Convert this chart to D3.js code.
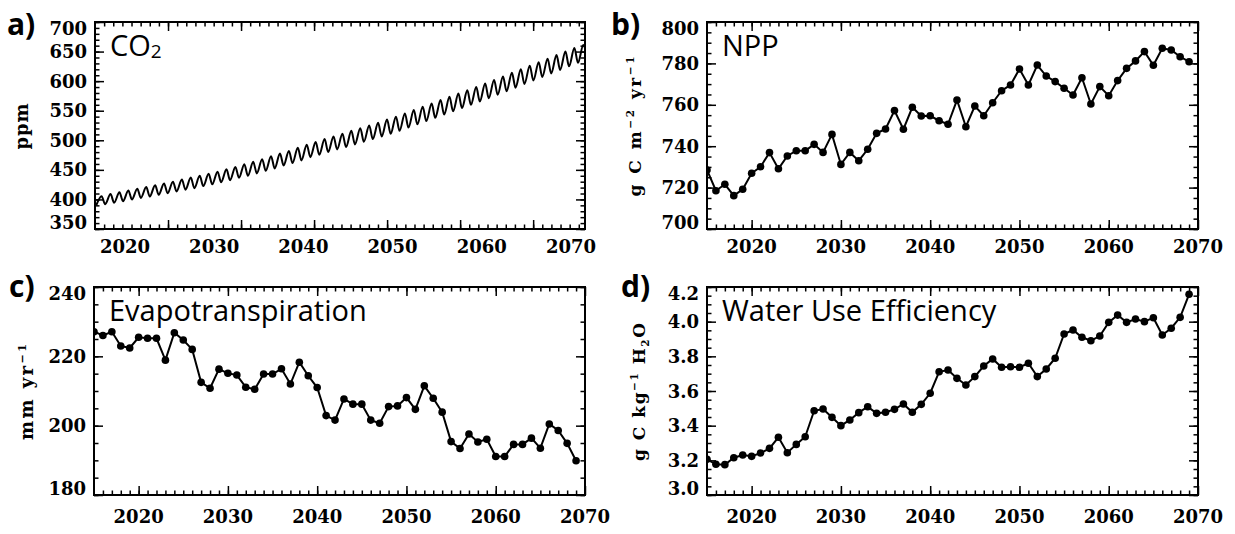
<!DOCTYPE html>
<html>
<head>
<meta charset="utf-8">
<script src="https://cdn.jsdelivr.net/npm/d3@7"></script>
<style>
  body { margin: 0; background: #fff; }
  .tick line { stroke: #000; stroke-width: 1.5; }
  .domain { display: none; }
</style>
</head>
<body>
<div id="chart"></div>
<script>
// ---- data ----
var years = [2015, 2016, 2017, 2018, 2019, 2020, 2021, 2022, 2023, 2024,
  2025, 2026, 2027, 2028, 2029, 2030, 2031, 2032, 2033, 2034,
  2035, 2036, 2037, 2038, 2039, 2040, 2041, 2042, 2043, 2044,
  2045, 2046, 2047, 2048, 2049, 2050, 2051, 2052, 2053, 2054,
  2055, 2056, 2057, 2058, 2059, 2060, 2061, 2062, 2063, 2064,
  2065, 2066, 2067, 2068, 2069];

var npp = [728.5, 718.5, 721.6, 716.1, 719.2, 726.9, 730.1, 736.9, 729.1, 735.3,
  737.8, 737.8, 740.9, 737.0, 745.7, 731.2, 737.0, 733.0, 738.5, 746.2,
  748.3, 757.2, 748.2, 758.8, 754.6, 754.7, 752.3, 750.6, 762.3, 749.4,
  759.4, 754.7, 761.0, 766.8, 769.6, 777.3, 769.6, 779.2, 773.9, 771.2,
  768.0, 764.7, 773.1, 760.4, 768.8, 764.4, 771.7, 777.6, 781.2, 785.7,
  779.1, 787.3, 786.5, 783.2, 780.8];

var et = [227.1, 226.0, 227.1, 223.0, 222.4, 225.5, 225.2, 225.2, 218.9, 226.8,
  224.7, 222.0, 212.5, 210.8, 216.3, 215.1, 214.6, 211.1, 210.5, 214.9,
  214.9, 216.4, 212.0, 218.3, 214.4, 211.0, 202.9, 201.6, 207.7, 206.2,
  206.2, 201.6, 200.7, 205.5, 205.7, 208.1, 204.7, 211.5, 207.9, 203.9,
  195.4, 193.4, 197.6, 195.3, 196.1, 191.1, 191.1, 194.6, 194.6, 196.4,
  193.5, 200.5, 198.6, 194.9, 189.9];

var wue = [3.206, 3.177, 3.175, 3.215, 3.231, 3.223, 3.242, 3.269, 3.333, 3.244,
  3.292, 3.336, 3.486, 3.496, 3.448, 3.400, 3.433, 3.475, 3.509, 3.471,
  3.477, 3.494, 3.525, 3.477, 3.523, 3.587, 3.711, 3.721, 3.673, 3.635,
  3.683, 3.744, 3.785, 3.737, 3.740, 3.737, 3.760, 3.683, 3.727, 3.789,
  3.929, 3.952, 3.910, 3.890, 3.917, 3.996, 4.038, 3.996, 4.015, 4.000,
  4.023, 3.923, 3.962, 4.025, 4.158];

// CO2: seasonal maximum (late spring) and minimum (autumn) of each year
var co2Years = [2016, 2017, 2018, 2019, 2020, 2021, 2022, 2023, 2024, 2025,
  2026, 2027, 2028, 2029, 2030, 2031, 2032, 2033, 2034, 2035,
  2036, 2037, 2038, 2039, 2040, 2041, 2042, 2043, 2044, 2045,
  2046, 2047, 2048, 2049, 2050, 2051, 2052, 2053, 2054, 2055,
  2056, 2057, 2058, 2059, 2060, 2061, 2062, 2063, 2064, 2065,
  2066, 2067, 2068, 2069, 2070, 2071];
var co2Max = [null, 405.5, 409, 412, 415, 418, 421, 424, 427, 430,
  433.5, 437, 440, 443.5, 447, 451, 455, 459.5, 463.5, 468,
  473, 477.5, 482, 487.5, 492.5, 497, 502, 506.5, 511, 516,
  520.5, 525, 529.5, 535, 540, 545.5, 551, 556.5, 562, 568,
  573.5, 579, 584.5, 590, 596, 602, 608, 614, 620, 626,
  632, 638, 644, 650, 656, 661];
var co2Min = [390, 392, 394.5, 397, 400, 402.5, 405, 408, 410.5, 413.5,
  416.5, 419, 422.5, 425.5, 429, 432.5, 436.5, 440, 444, 448.5,
  452.5, 457.5, 461.5, 466, 471.5, 475.5, 480, 484.5, 488.5, 493,
  497.5, 502, 506.5, 511, 516, 521.5, 527, 532.5, 538, 543.5,
  549, 554.5, 560, 565.5, 571, 577, 583, 589, 595, 601,
  607, 613, 619, 625, 631, 637];

var xLabels = [2020, 2030, 2040, 2050, 2060, 2070];

// ---- drawing ----
var svg = d3.select("#chart").append("svg")
  .attr("width", 1235).attr("height", 534);

var serif = "'DejaVu Serif', serif";
var sans = "'Open Sans', sans-serif";

function range(a, b, s) {
  var out = [];
  var n = Math.round((b - a) / s);
  for (var i = 0; i <= n; i++) out.push(+(a + i * s).toFixed(6));
  return out;
}

function panel(p) {
  var x = d3.scaleLinear().domain(p.xDomain).range([p.left, p.right]);
  var y = d3.scaleLinear().domain(p.yDomain).range([p.bottom, p.top]);
  var tx = p.tickScale ? d3.scaleLinear().domain(p.tickScale).range([p.left, p.right]) : x;
  var g = svg.append("g");

  svg.append("clipPath").attr("id", "clip-" + p.id)
    .append("rect")
    .attr("x", p.left).attr("y", p.top)
    .attr("width", p.right - p.left).attr("height", p.bottom - p.top);

  // ticks on all four sides, pointing inward
  function addTicks(vals, len) {
    g.append("g").attr("transform", "translate(0," + p.bottom + ")")
      .call(d3.axisBottom(tx).tickValues(vals.x).tickSize(-len).tickFormat(""));
    g.append("g").attr("transform", "translate(0," + p.top + ")")
      .call(d3.axisTop(tx).tickValues(vals.x).tickSize(-len).tickFormat(""));
    g.append("g").attr("transform", "translate(" + p.left + ",0)")
      .call(d3.axisLeft(y).tickValues(vals.y).tickSize(-len).tickFormat(""));
    g.append("g").attr("transform", "translate(" + p.right + ",0)")
      .call(d3.axisRight(y).tickValues(vals.y).tickSize(-len).tickFormat(""));
  }
  addTicks({ x: p.xMinor, y: range(p.yDomain[0], p.yDomain[1], p.yMinor) }, 4.5);
  addTicks({ x: p.xMajor, y: range(p.yDomain[0], p.yDomain[1], p.yMajor) }, 9);

  g.append("rect")
    .attr("x", p.left).attr("y", p.top)
    .attr("width", p.right - p.left).attr("height", p.bottom - p.top)
    .attr("fill", "none").attr("stroke", "#000").attr("stroke-width", 2);

  // y tick labels (end labels kept inside the axis span)
  g.selectAll(".ylab").data(range(p.yDomain[0], p.yDomain[1], p.yMajor)).enter()
    .append("text")
    .attr("x", p.left - 8)
    .attr("y", function (d) {
      var c = Math.min(Math.max(y(d), p.top + 6.5), p.bottom - 6.5);
      return c + 6.5;
    })
    .attr("text-anchor", "end")
    .attr("font-family", serif).attr("font-weight", "bold").attr("font-size", 18)
    .text(p.yFormat || function (d) { return d; });

  // x tick labels
  g.selectAll(".xlab").data(xLabels).enter()
    .append("text")
    .attr("x", function (d) { return x(d); })
    .attr("y", p.xLabelY)
    .attr("text-anchor", "middle")
    .attr("font-family", serif).attr("font-weight", "bold").attr("font-size", 18)
    .text(function (d) { return d; });

  // panel letter
  g.append("text")
    .attr("x", p.letterX).attr("y", p.letterY)
    .attr("font-family", sans).attr("font-weight", "bold").attr("font-size", 30)
    .text(p.letter);

  // title inside the plot
  var t = g.append("text")
    .attr("x", p.left + 15).attr("y", p.top + 34)
    .attr("font-family", sans).attr("font-size", 29);
  p.title.forEach(function (part) {
    var s = t.append("tspan").text(part.t);
    if (part.sub) s.attr("font-size", 19).attr("dy", 2);
  });

  // y axis title, rotated
  var yt = g.append("text")
    .attr("transform", "translate(" + p.yTitleX + "," + ((p.top + p.bottom) / 2 + 1) + ") rotate(-90)")
    .attr("text-anchor", "middle")
    .attr("font-family", serif).attr("font-weight", "bold").attr("font-size", p.yTitleSize)
    .attr("textLength", p.yTitleLen).attr("lengthAdjust", "spacing");
  p.yTitle.forEach(function (part) {
    var s = yt.append("tspan").text(part.t);
    if (part.sup) s.attr("font-size", p.yTitleSize * 0.62).attr("dy", -7);
    if (part.sub) s.attr("font-size", p.yTitleSize * 0.62).attr("dy", 4);
    if (part.back) s.attr("dy", part.back);
  });

  return { x: x, y: y, g: g, clip: "url(#clip-" + p.id + ")" };
}

var yearMinor = range(2016, 2069, 1);
var yearMajor = [2020, 2030, 2040, 2050, 2060, 2070];

// a) CO2
var pa = panel({
  id: "a", left: 95, right: 585, top: 22, bottom: 229,
  xDomain: [2016.64, 2071.57], tickScale: [0, 671],
  xMajor: [100, 200, 300, 400, 500, 600], xMinor: range(12.5, 662.5, 12.5),
  yDomain: [350, 700], yMajor: 50, yMinor: 10,
  xLabelY: 253, letter: "a)", letterX: 7, letterY: 35,
  title: [{ t: "CO" }, { t: "2", sub: true }],
  yTitle: [{ t: "ppm" }], yTitleX: 28, yTitleSize: 18, yTitleLen: 46
});

var co2Pts = [];
co2Years.forEach(function (yr, i) {
  if (co2Max[i] !== null) co2Pts.push([yr + 0.38, co2Max[i]]);
  co2Pts.push([yr + 0.78, co2Min[i]]);
});
pa.g.append("path")
  .datum(co2Pts)
  .attr("clip-path", pa.clip)
  .attr("fill", "none").attr("stroke", "#000").attr("stroke-width", 2)
  .attr("d", d3.line()
    .x(function (d) { return pa.x(d[0]); })
    .y(function (d) { return pa.y(d[1]); })
    .curve(d3.curveMonotoneX));

function series(pn, values) {
  pn.g.append("path")
    .datum(values)
    .attr("clip-path", pn.clip)
    .attr("fill", "none").attr("stroke", "#000").attr("stroke-width", 2)
    .attr("d", d3.line()
      .x(function (d, i) { return pn.x(years[i]); })
      .y(function (d) { return pn.y(d); }));
  pn.g.append("g").attr("clip-path", pn.clip)
    .selectAll("circle").data(values).enter()
    .append("circle")
    .attr("cx", function (d, i) { return pn.x(years[i]); })
    .attr("cy", function (d) { return pn.y(d); })
    .attr("r", 3.8)
    .attr("fill", "#000");
}

// b) NPP
var pb = panel({
  id: "b", left: 707, right: 1198, top: 22, bottom: 229,
  xDomain: [2015, 2070], xMajor: yearMajor, xMinor: yearMinor,
  yDomain: [700, 800], yMajor: 20, yMinor: 5,
  xLabelY: 253, letter: "b)", letterX: 611, letterY: 35,
  title: [{ t: "NPP" }],
  yTitle: [{ t: "g C m" }, { t: "\u22122", sup: true }, { t: " yr", back: 7 }, { t: "\u22121", sup: true }],
  yTitleX: 641, yTitleSize: 17, yTitleLen: 140
});
series(pb, npp);

// c) Evapotranspiration
var pc = panel({
  id: "c", left: 94, right: 585, top: 287, bottom: 495,
  xDomain: [2015, 2070], xMajor: yearMajor, xMinor: yearMinor,
  yDomain: [180, 240], yMajor: 20, yMinor: 5,
  xLabelY: 523, letter: "c)", letterX: 9, letterY: 297,
  title: [{ t: "Evapotranspiration" }],
  yTitle: [{ t: "mm yr" }, { t: "\u22121", sup: true }],
  yTitleX: 33, yTitleSize: 18, yTitleLen: 96
});
series(pc, et);

// d) Water Use Efficiency
var pd = panel({
  id: "d", left: 707, right: 1198, top: 287, bottom: 495,
  xDomain: [2015, 2070], xMajor: yearMajor, xMinor: yearMinor,
  yDomain: [3.0, 4.2], yMajor: 0.2, yMinor: 0.05,
  yFormat: d3.format(".1f"),
  xLabelY: 523, letter: "d)", letterX: 621, letterY: 297,
  title: [{ t: "Water Use Efficiency" }],
  yTitle: [{ t: "g C kg" }, { t: "\u22121", sup: true }, { t: " H", back: 7 }, { t: "2", sub: true }, { t: "O", back: -4 }],
  yTitleX: 645, yTitleSize: 17, yTitleLen: 138
});
series(pd, wue);
</script>
</body>
</html>
